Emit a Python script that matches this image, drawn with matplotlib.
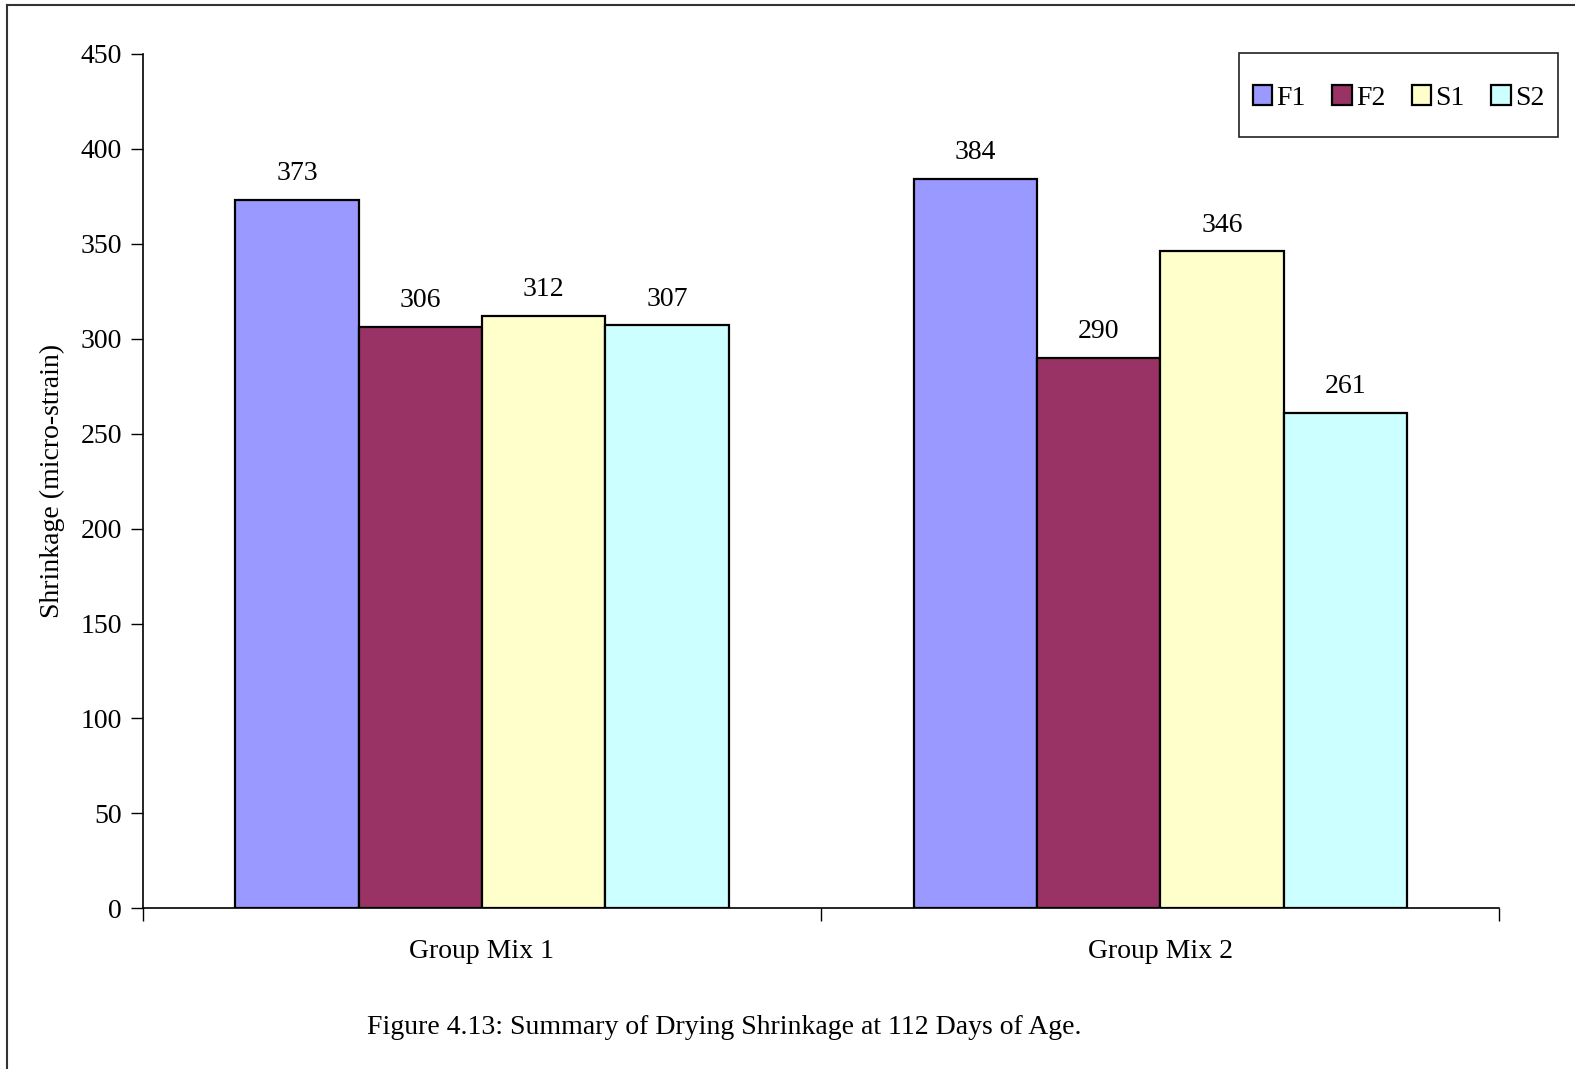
import matplotlib
matplotlib.use('Agg')

import matplotlib.pyplot as plt
from matplotlib.lines import Line2D
from matplotlib.patches import Rectangle
import numpy as np

plt.rcParams['font.family'] = ['Liberation Serif', 'DejaVu Serif']

# shrinkage at 112 days, micro-strain
groups = ['Group Mix 1', 'Group Mix 2']
series = ['F1', 'F2', 'S1', 'S2']
f1 = [373, 384]
f2 = [306, 290]
s1 = [312, 346]
s2 = [307, 261]
colors = ['#9999FF', '#993366', '#FFFFCC', '#CCFFFF']

W, H = 1575, 1069
fig = plt.figure(figsize=(W / 100, H / 100), dpi=100)
ax = fig.add_axes([0.0906, 0.1503, 0.8614, 0.7992])

x = np.arange(len(groups))
w = 0.1818
for i, (vals, c, name) in enumerate(zip([f1, f2, s1, s2], colors, series)):
    pos = x + (i - 1.5) * w
    bars = ax.bar(pos, vals, w, color=c, edgecolor='black', linewidth=1.6, label=name)
    for b, v in zip(bars, vals):
        ax.annotate(str(v), (b.get_x() + b.get_width() / 2, v), xytext=(0, 10),
                    textcoords='offset points', ha='center', va='bottom', fontsize=20)

ax.set_xlim(-0.5, 1.5)
ax.set_ylim(0, 450)
ax.set_yticks(np.arange(0, 451, 50))
ax.set_xticks([-0.5, 0.5, 1.5])
ax.set_xticklabels([])
ax.set_xticks(x, minor=True)
ax.set_xticklabels(groups, minor=True, fontsize=20)
ax.tick_params(axis='x', which='minor', length=0, pad=22)
ax.tick_params(axis='x', which='major', direction='out', length=9, width=1)
ax.tick_params(axis='y', direction='out', length=9, width=1, labelsize=20, pad=6)
for s in ['top', 'right']:
    ax.spines[s].set_visible(False)
for s in ['left', 'bottom']:
    ax.spines[s].set_linewidth(1.2)

ax.set_ylabel('Shrinkage (micro-strain)', fontsize=20, labelpad=11)

# legend box drawn separately so the padding can differ per side
bx0, bx1, by0, by1 = 1239, 1558, 53, 137
fig.add_artist(Rectangle((bx0 / W, 1 - by1 / H), (bx1 - bx0) / W, (by1 - by0) / H,
                         transform=fig.transFigure, fill=False, edgecolor='#222222', lw=1.2))
handles, labels = ax.get_legend_handles_labels()
fig.legend(handles, labels, loc='center',
           bbox_to_anchor=((bx0 + bx1) / 2 / W, 1 - ((by0 + by1) / 2 + 3) / H),
           ncol=4, fontsize=20, frameon=False, handlelength=0.7, handleheight=0.7,
           handletextpad=0.15, columnspacing=0.95, borderpad=0.2)

fig.text(724 / W, 1 - 1027 / H, 'Figure 4.13: Summary of Drying Shrinkage at 112 Days of Age.',
         ha='center', va='center', fontsize=20)

# outer frame (only left and top edges are in view)
fig.add_artist(Line2D([7 / W, 7 / W], [0, 1 - 5 / H], color='#333333', lw=1.5))
fig.add_artist(Line2D([7 / W, 1], [1 - 5 / H, 1 - 5 / H], color='#333333', lw=1.5))

plt.savefig('out.png', dpi=100)
